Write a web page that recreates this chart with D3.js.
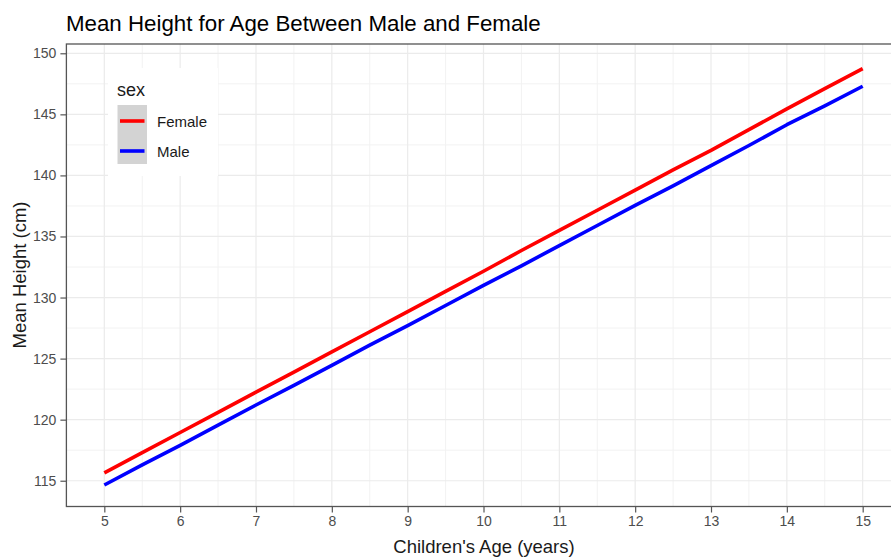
<!DOCTYPE html>
<html><head><meta charset="utf-8">
<script src="https://cdn.jsdelivr.net/npm/d3@7"></script>
<style>body{margin:0;background:#fff}svg{display:block}text{font-family:Arial,"Liberation Sans",sans-serif}</style>
</head><body><svg id="c" width="891" height="557"></svg>
<script>
const ages = [5,5.5,6,6.5,7,7.5,8,8.5,9,9.5,10,10.5,11,11.5,12,12.5,13,13.5,14,14.5,15];
const female = [115.65,117.3,118.95,120.6,122.25,123.9,125.55,127.2,128.85,130.5,132.15,133.85,135.5,137.15,138.8,140.45,142.05,143.75,145.45,147.1,148.75];
const male = [114.65,116.3,117.9,119.55,121.2,122.8,124.45,126.1,127.7,129.35,131.0,132.6,134.25,135.9,137.55,139.15,140.8,142.45,144.15,145.7,147.3];
const xTicks = [5,6,7,8,9,10,11,12,13,14,15];
const yTicks = [115,120,125,130,135,140,145,150];
const seriesNames = ["Female","Male"];
const seriesColors = ["#FF0000","#0000FF"];

const svg = d3.select("#c");
const L=66.4, R=900.6, T=44, B=506.5;
const x = d3.scaleLinear().domain([4.5,15.5]).range([L,R]);
const y = d3.scaleLinear().domain([112.89,150.76]).range([B,T]);

const g = svg.append("g");
g.append("rect").attr("x",L).attr("y",T).attr("width",R-L).attr("height",B-T).attr("fill","#fff");
const xMinor = d3.range(4.5,15.6,1), yMinor = d3.range(117.5,150,5);
g.selectAll(".xm").data(xMinor).join("line").attr("x1",d=>x(d)).attr("x2",d=>x(d)).attr("y1",T).attr("y2",B).attr("stroke","#F2F2F2").attr("stroke-width",1);
g.selectAll(".ym").data(yMinor).join("line").attr("x1",L).attr("x2",R).attr("y1",d=>y(d)).attr("y2",d=>y(d)).attr("stroke","#F2F2F2").attr("stroke-width",1);
g.selectAll(".xg").data(xTicks).join("line").attr("x1",d=>x(d)).attr("x2",d=>x(d)).attr("y1",T).attr("y2",B).attr("stroke","#EBEBEB").attr("stroke-width",1.2);
g.selectAll(".yg").data(yTicks).join("line").attr("x1",L).attr("x2",R).attr("y1",d=>y(d)).attr("y2",d=>y(d)).attr("stroke","#EBEBEB").attr("stroke-width",1.2);

const line = d3.line().x((d,i)=>x(ages[i])).y(d=>y(d));
[female,male].forEach((s,k)=>{
  g.append("path").datum(s).attr("d",line).attr("fill","none").attr("stroke",seriesColors[k]).attr("stroke-width",3.6).attr("stroke-linejoin","round");
});

g.append("rect").attr("x",L).attr("y",T).attr("width",R-L).attr("height",B-T).attr("fill","none").attr("stroke","#555").attr("stroke-width",1.3);

const xa = svg.append("g").attr("transform",`translate(0,${B})`).call(d3.axisBottom(x).tickValues(xTicks).tickSize(6).tickPadding(4).tickFormat(d3.format("d")));
const ya = svg.append("g").attr("transform",`translate(${L},0)`).call(d3.axisLeft(y).tickValues(yTicks).tickSize(6).tickPadding(4).tickFormat(d3.format("d")));
[xa,ya].forEach(a=>{
  a.select(".domain").remove();
  a.selectAll(".tick line").attr("stroke","#555").attr("stroke-width",1.2);
  a.selectAll(".tick text").attr("fill","#4D4D4D").attr("font-size","14px").attr("font-family","Arial, 'Liberation Sans', sans-serif");
});

svg.append("text").attr("x",66).attr("y",31).attr("font-size","22.3px").attr("fill","#000").text("Mean Height for Age Between Male and Female");
svg.append("text").attr("x",484).attr("y",553).attr("text-anchor","middle").attr("font-size","18.5px").attr("fill","#1a1a1a").text("Children's Age (years)");
svg.append("text").attr("transform","translate(26,275) rotate(-90)").attr("text-anchor","middle").attr("font-size","18.5px").attr("fill","#1a1a1a").text("Mean Height (cm)");

const lg = svg.append("g");
lg.append("rect").attr("x",108).attr("y",68).attr("width",110).attr("height",108).attr("fill","#fff");
lg.append("text").attr("x",117).attr("y",96).attr("font-size","18px").attr("fill","#1a1a1a").text("sex");
lg.append("rect").attr("x",117.5).attr("y",105).attr("width",29.5).attr("height",59).attr("fill","#D3D3D3");
seriesNames.forEach((n,i)=>{
  const cy = 121 + i*30;
  lg.append("line").attr("x1",120).attr("x2",144.5).attr("y1",cy).attr("y2",cy).attr("stroke",seriesColors[i]).attr("stroke-width",3.6);
  lg.append("text").attr("x",157).attr("y",cy+5.5).attr("font-size","15px").attr("fill","#1a1a1a").text(n);
});
</script></body></html>
